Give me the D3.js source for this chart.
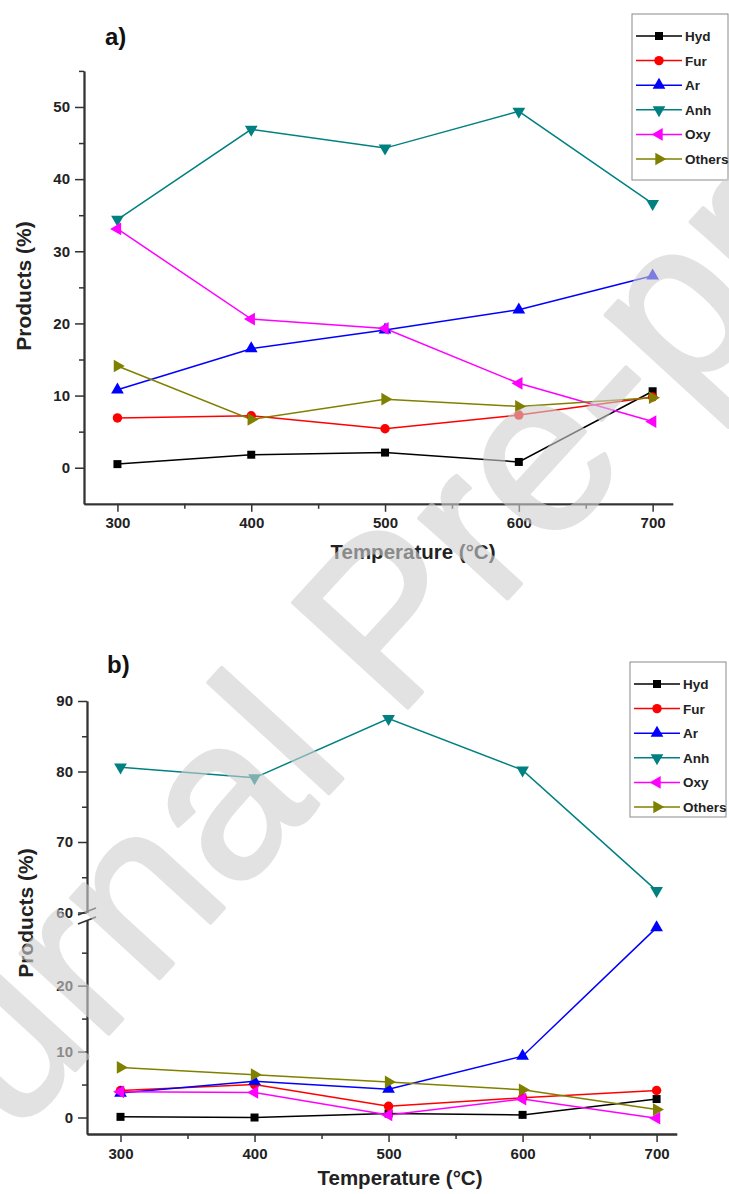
<!DOCTYPE html>
<html>
<head>
<meta charset="utf-8">
<script src="https://cdn.jsdelivr.net/npm/d3@7"></script>
<style>
body { margin: 0; background: #fff; }
svg { display: block; font-family: Arial, "Liberation Sans", sans-serif; }
</style>
</head>
<body>
<svg id="chart" width="729" height="1194"></svg>
<script>

// data
var temps = [300, 400, 500, 600, 700];
var names = ["Hyd", "Fur", "Ar", "Anh", "Oxy", "Others"];
var colors = ["#000000", "#ff0000", "#0000ff", "#008080", "#ff00ff", "#808000"];

// panel a) values, same order as names
var valsA = [
	[0.5, 1.8, 2.1, 0.8, 10.6],
	[6.9, 7.2, 5.4, 7.3, 9.8],
	[10.8, 16.5, 19.1, 21.9, 26.6],
	[34.4, 46.9, 44.3, 49.4, 36.6],
	[33.1, 20.6, 19.3, 11.7, 6.4],
	[14.1, 6.7, 9.5, 8.5, 9.7],
];

// panel b) values
var valsB = [
	[0.1, 0.0, 0.6, 0.4, 2.8],
	[4.1, 5.0, 1.7, 3.0, 4.1],
	[3.7, 5.5, 4.3, 9.3, 28.8],
	[80.6, 79.1, 87.5, 80.2, 63.1],
	[3.9, 3.8, 0.4, 2.8, -0.1],
	[7.6, 6.5, 5.4, 4.2, 1.2],
];

var xTicks = [300, 400, 500, 600, 700];
var xMinor = [350, 450, 550, 650];
var yTicksA = [0, 10, 20, 30, 40, 50];
var yMinorA = [5, 15, 25, 35, 45, 55];
var yTicksBup = [60, 70, 80, 90];
var yMinorBup = [65, 75, 85];
var yTicksBlow = [0, 10, 20];
var yMinorBlow = [5, 15, 25];

var svg = d3.select("#chart");
var axisCol = "#333";

// marker shapes: square, circle, up, down, left, right
var shapes = [
	{ t: d3.symbolSquare, r: 0, s: 64 },
	{ t: d3.symbolCircle, r: 0, s: 70 },
	{ t: d3.symbolTriangle, r: 0, s: 70 },
	{ t: d3.symbolTriangle, r: 180, s: 70 },
	{ t: d3.symbolTriangle, r: -90, s: 70 },
	{ t: d3.symbolTriangle, r: 90, s: 70 },
];

function marker(g, i, cx, cy)	{
	g.append("path")
		.attr("d", d3.symbol(shapes[i].t, shapes[i].s)())
		.attr("transform", `translate(${cx},${cy}) rotate(${shapes[i].r})`)
		.attr("fill", colors[i]);
}

function styleAxis(g)	{
	g.select(".domain").attr("stroke", axisCol).attr("stroke-width", 1.8);
	g.selectAll(".tick line").attr("stroke", axisCol).attr("stroke-width", 1.5);
	g.selectAll(".tick text").attr("fill", "#222").attr("font-size", 15).attr("font-weight", "bold");
}

function xAxis(g, x, y0)	{
	g.append("g")
		.attr("transform", `translate(0,${y0})`)
		.call(d3.axisBottom(x).tickValues(xTicks).tickSize(8).tickSizeOuter(0).tickPadding(6))
		.call(styleAxis);
	g.append("g")
		.attr("transform", `translate(0,${y0})`)
		.call(d3.axisBottom(x).tickValues(xMinor).tickSize(5).tickFormat("").tickSizeOuter(0))
		.call(styleAxis);
}

function yAxis(g, y, x0, major, minor)	{
	g.append("g")
		.attr("transform", `translate(${x0},0)`)
		.call(d3.axisLeft(y).tickValues(major).tickSize(9).tickSizeOuter(0).tickPadding(5))
		.call(styleAxis);
	g.append("g")
		.attr("transform", `translate(${x0},0)`)
		.call(d3.axisLeft(y).tickValues(minor).tickSize(5).tickFormat("").tickSizeOuter(0))
		.call(styleAxis);
}

function legend(g, x0, y0, h)	{
	g.append("rect")
		.attr("x", x0).attr("y", y0).attr("width", 96).attr("height", h)
		.attr("fill", "#fff").attr("stroke", "#8a8a8a").attr("stroke-width", 1);
	names.forEach((n, i) => {
		var yy = y0 + 22 + i * 24.6;
		g.append("line")
			.attr("x1", x0 + 4).attr("x2", x0 + 50).attr("y1", yy).attr("y2", yy)
			.attr("stroke", colors[i]).attr("stroke-width", 1.5);
		marker(g, i, x0 + 27, yy);
		g.append("text")
			.attr("x", x0 + 53).attr("y", yy + 5)
			.attr("font-size", 13.5).attr("font-weight", "bold").attr("fill", "#222")
			.text(n);
	});
}

function titles(g, lx, ly, label, yx, yy, xx, xy)	{
	g.append("text").attr("x", lx).attr("y", ly)
		.attr("font-size", 24).attr("font-weight", "bold").attr("fill", "#111").text(label);
	g.append("text")
		.attr("transform", `translate(${yx},${yy}) rotate(-90)`)
		.attr("text-anchor", "middle")
		.attr("font-size", 21).attr("font-weight", "bold").attr("fill", "#222")
		.text("Products (%)");
	g.append("text").attr("x", xx).attr("y", xy)
		.attr("text-anchor", "middle")
		.attr("font-size", 20.5).attr("font-weight", "bold").attr("fill", "#222")
		.text("Temperature (°C)");
}

function series(g, x, yf, vals)	{
	vals.forEach((v, i) => {
		var pts = temps.map((t, k) => [x(t), yf(v[k])]);
		g.append("path")
			.attr("d", d3.line()(pts))
			.attr("fill", "none").attr("stroke", colors[i]).attr("stroke-width", 1.5);
	});
	vals.forEach((v, i) => {
		temps.forEach((t, k) => marker(g, i, x(t), yf(v[k])));
	});
}

// ---- panel a
var ga = svg.append("g");
var xa = d3.scaleLinear([275, 715], [84, 672.7]);
var ya = d3.scaleLinear([-5, 55], [503.8, 70.9]);

xAxis(ga, xa, 503.8);
yAxis(ga, ya, 84, yTicksA, yMinorA);
series(ga, xa, ya, valsA);
legend(ga, 632, 14, 166);
titles(ga, 105, 45, "a)", 31, 286, 413, 559);

// ---- panel b, broken y axis
var gb = svg.append("g");
var xb = d3.scaleLinear([275, 715], [87, 676.7]);
var ybUp = d3.scaleLinear([60, 90], [912.5, 701]);
var ybLow = d3.scaleLinear([-2.5, 30], [1134, 919.7]);
var yb = v => v >= 45 ? ybUp(v) : ybLow(v);

xAxis(gb, xb, 1134);
yAxis(gb, ybUp, 87, yTicksBup, yMinorBup);
yAxis(gb, ybLow, 87, yTicksBlow, yMinorBlow);
[911.5, 920.5].forEach(c => {
	gb.append("line")
		.attr("x1", 78).attr("x2", 96).attr("y1", c + 3.5).attr("y2", c - 3.5)
		.attr("stroke", axisCol).attr("stroke-width", 1.6);
});
series(gb, xb, yb, valsB);
legend(gb, 630, 662, 155);
titles(gb, 107, 673, "b)", 33, 913, 400, 1185);

// ---- watermark (baseline starts off-canvas, bottom left)
svg.append("text")
	.attr("transform", "translate(-148,1314) rotate(-47.5)")
	.attr("font-size", 226)
	.attr("fill", "#cfcfcf").attr("stroke", "#cfcfcf").attr("stroke-width", 4)
	.attr("stroke-linejoin", "round")
	.attr("opacity", 0.6)
	.text("Journal Pre-proof");

</script>
</body>
</html>
